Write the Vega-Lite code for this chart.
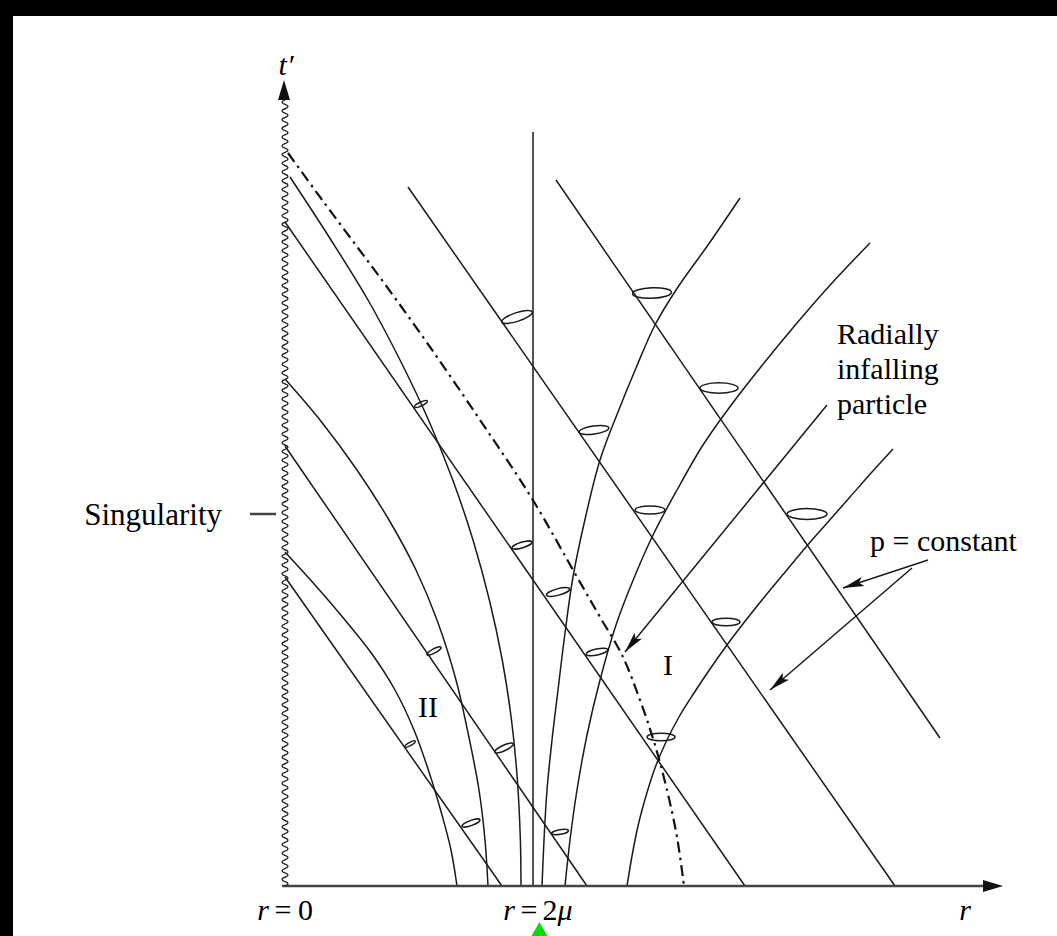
{
  "$schema": "https://vega.github.io/schema/vega-lite/v6.json",
  "width": 1057,
  "height": 936,
  "padding": 0,
  "autosize": {"type": "none"},
  "background": "white",
  "config": {"view": {"stroke": null}},
  "datasets": {
    "frame": [
      {"r": -3, "r2": 7, "t": 6.96, "t2": 8},
      {"r": -3, "r2": -2.16, "t": -1, "t2": 8}
    ],
    "lines": [
      {"id": "A", "r": 0.016, "t": 5.312}, {"id": "A", "r": 3.696, "t": 0},
      {"id": "B", "r": 1.0, "t": 5.592}, {"id": "B", "r": 4.896, "t": 0},
      {"id": "C", "r": 2.184, "t": 5.648}, {"id": "C", "r": 5.256, "t": 1.184},
      {"id": "D", "r": 0.016, "t": 3.52}, {"id": "D", "r": 2.432, "t": 0},
      {"id": "E", "r": 0.016, "t": 2.472}, {"id": "E", "r": 1.752, "t": 0},
      {"id": "H", "r": 2, "t": 6.032}, {"id": "H", "r": 2.0001, "t": 0},
      {"id": "P1", "r": 4.352, "t": 3.848}, {"id": "P1", "r": 2.736, "t": 1.872},
      {"id": "P2", "r": 5.16, "t": 2.608}, {"id": "P2", "r": 4.48, "t": 2.384},
      {"id": "P3", "r": 5.032, "t": 2.544}, {"id": "P3", "r": 3.896, "t": 1.568}
    ],
    "axis": [
      {"id": "x", "r": -0.008, "t": 0}, {"id": "x", "r": 5.656, "t": 0},
      {"id": "tick", "r": -0.264, "t": 2.976}, {"id": "tick", "r": -0.056, "t": 2.976}
    ],
    "curves": [
      {"id": "R2a", "r": 0.056, "t": 5.672}, {"id": "R2a", "r": 0.384, "t": 5.168}, {"id": "R2a", "r": 0.68, "t": 4.688}, {"id": "R2a", "r": 0.936, "t": 4.208}, {"id": "R2a", "r": 1.164, "t": 3.728}, {"id": "R2a", "r": 1.358, "t": 3.248}, {"id": "R2a", "r": 1.52, "t": 2.768}, {"id": "R2a", "r": 1.651, "t": 2.288}, {"id": "R2a", "r": 1.754, "t": 1.808}, {"id": "R2a", "r": 1.828, "t": 1.328}, {"id": "R2a", "r": 1.875, "t": 0.848}, {"id": "R2a", "r": 1.899, "t": 0.368}, {"id": "R2a", "r": 1.904, "t": 0},
      {"id": "R2b", "r": 0.016, "t": 4.056}, {"id": "R2b", "r": 0.296, "t": 3.728}, {"id": "R2b", "r": 0.592, "t": 3.328}, {"id": "R2b", "r": 0.848, "t": 2.928}, {"id": "R2b", "r": 1.064, "t": 2.528}, {"id": "R2b", "r": 1.232, "t": 2.128}, {"id": "R2b", "r": 1.384, "t": 1.648}, {"id": "R2b", "r": 1.492, "t": 1.168}, {"id": "R2b", "r": 1.568, "t": 0.768}, {"id": "R2b", "r": 1.616, "t": 0.368}, {"id": "R2b", "r": 1.64, "t": 0},
      {"id": "R2c", "r": 0.016, "t": 2.672}, {"id": "R2c", "r": 0.256, "t": 2.408}, {"id": "R2c", "r": 0.496, "t": 2.128}, {"id": "R2c", "r": 0.712, "t": 1.856}, {"id": "R2c", "r": 0.896, "t": 1.568}, {"id": "R2c", "r": 1.048, "t": 1.248}, {"id": "R2c", "r": 1.176, "t": 0.888}, {"id": "R2c", "r": 1.272, "t": 0.568}, {"id": "R2c", "r": 1.344, "t": 0.288}, {"id": "R2c", "r": 1.392, "t": 0},
      {"id": "O1", "r": 2.072, "t": 0}, {"id": "O1", "r": 2.088, "t": 0.368}, {"id": "O1", "r": 2.112, "t": 0.768}, {"id": "O1", "r": 2.152, "t": 1.168}, {"id": "O1", "r": 2.2, "t": 1.568}, {"id": "O1", "r": 2.256, "t": 2.024}, {"id": "O1", "r": 2.32, "t": 2.472}, {"id": "O1", "r": 2.424, "t": 2.968}, {"id": "O1", "r": 2.536, "t": 3.408}, {"id": "O1", "r": 2.68, "t": 3.792}, {"id": "O1", "r": 2.824, "t": 4.144}, {"id": "O1", "r": 2.976, "t": 4.488}, {"id": "O1", "r": 3.16, "t": 4.792}, {"id": "O1", "r": 3.4, "t": 5.128}, {"id": "O1", "r": 3.656, "t": 5.504},
      {"id": "O2", "r": 2.256, "t": 0}, {"id": "O2", "r": 2.296, "t": 0.368}, {"id": "O2", "r": 2.352, "t": 0.768}, {"id": "O2", "r": 2.432, "t": 1.208}, {"id": "O2", "r": 2.536, "t": 1.648}, {"id": "O2", "r": 2.664, "t": 2.088}, {"id": "O2", "r": 2.808, "t": 2.464}, {"id": "O2", "r": 2.968, "t": 2.824}, {"id": "O2", "r": 3.152, "t": 3.168}, {"id": "O2", "r": 3.36, "t": 3.528}, {"id": "O2", "r": 3.592, "t": 3.856}, {"id": "O2", "r": 3.848, "t": 4.184}, {"id": "O2", "r": 4.112, "t": 4.504}, {"id": "O2", "r": 4.392, "t": 4.824}, {"id": "O2", "r": 4.696, "t": 5.144},
      {"id": "O3", "r": 2.752, "t": 0}, {"id": "O3", "r": 2.792, "t": 0.24}, {"id": "O3", "r": 2.84, "t": 0.48}, {"id": "O3", "r": 2.904, "t": 0.72}, {"id": "O3", "r": 2.976, "t": 0.944}, {"id": "O3", "r": 3.064, "t": 1.152}, {"id": "O3", "r": 3.168, "t": 1.352}, {"id": "O3", "r": 3.288, "t": 1.544}, {"id": "O3", "r": 3.416, "t": 1.736}, {"id": "O3", "r": 3.552, "t": 1.928}, {"id": "O3", "r": 3.704, "t": 2.128}, {"id": "O3", "r": 3.864, "t": 2.328}, {"id": "O3", "r": 4.024, "t": 2.52}, {"id": "O3", "r": 4.184, "t": 2.712}, {"id": "O3", "r": 4.36, "t": 2.912}, {"id": "O3", "r": 4.536, "t": 3.112}, {"id": "O3", "r": 4.712, "t": 3.312}, {"id": "O3", "r": 4.88, "t": 3.496}
    ],
    "infall": [
      {"r": 0.04, "t": 5.864}, {"r": 0.296, "t": 5.512}, {"r": 0.6, "t": 5.104}, {"r": 0.832, "t": 4.792}, {"r": 1.176, "t": 4.312}, {"r": 1.576, "t": 3.728}, {"r": 1.984, "t": 3.112}, {"r": 2.352, "t": 2.472}, {"r": 2.536, "t": 2.152}, {"r": 2.712, "t": 1.848}, {"r": 2.856, "t": 1.488}, {"r": 2.976, "t": 1.128}, {"r": 3.072, "t": 0.768}, {"r": 3.152, "t": 0.392}, {"r": 3.208, "t": 0}
    ],
    "cones": [
      {"r": 1.872, "t": 4.552, "span": 0.256, "tilt": -18},
      {"r": 2.952, "t": 4.744, "span": 0.312, "tilt": -2},
      {"r": 2.488, "t": 3.648, "span": 0.24, "tilt": -8},
      {"r": 2.936, "t": 3.008, "span": 0.24, "tilt": 0},
      {"r": 1.104, "t": 3.856, "span": 0.112, "tilt": -25},
      {"r": 3.488, "t": 3.984, "span": 0.304, "tilt": 0},
      {"r": 4.192, "t": 2.976, "span": 0.32, "tilt": 0},
      {"r": 3.544, "t": 2.112, "span": 0.224, "tilt": 0},
      {"r": 1.912, "t": 2.728, "span": 0.168, "tilt": -17},
      {"r": 2.2, "t": 2.352, "span": 0.192, "tilt": -15},
      {"r": 2.512, "t": 1.872, "span": 0.176, "tilt": -12},
      {"r": 3.024, "t": 1.192, "span": 0.224, "tilt": 0},
      {"r": 1.208, "t": 1.88, "span": 0.128, "tilt": -28},
      {"r": 1.016, "t": 1.136, "span": 0.096, "tilt": -30},
      {"r": 1.768, "t": 1.104, "span": 0.16, "tilt": -25},
      {"r": 1.504, "t": 0.504, "span": 0.152, "tilt": -20},
      {"r": 2.216, "t": 0.432, "span": 0.136, "tilt": -10}
    ],
    "heads": [
      {"r": 2.736, "t": 1.872, "dir": 219},
      {"r": 4.48, "t": 2.384, "dir": 252},
      {"r": 3.896, "t": 1.568, "dir": 229}
    ],
    "axisheads": [
      {"r": 0.008, "t": 6.448, "dir": 0},
      {"r": 5.76, "t": 0, "dir": 90}
    ],
    "sing": [
      {"r": 0.016, "t": 0.3493}, {"r": 0.016, "t": 1.048}, {"r": 0.016, "t": 1.7464},
      {"r": 0.016, "t": 2.4456}, {"r": 0.016, "t": 3.144}, {"r": 0.016, "t": 3.8424},
      {"r": 0.016, "t": 4.5416}, {"r": 0.016, "t": 5.24}, {"r": 0.016, "t": 5.9384}
    ],
    "txtReg": [
      {"label": "=", "r": 0.0, "t": -0.272},
      {"label": "0", "r": 0.18, "t": -0.272},
      {"label": "=", "r": 1.968, "t": -0.272},
      {"label": "2", "r": 2.136, "t": -0.272},
      {"label": "I", "r": 3.08, "t": 1.688},
      {"label": "II", "r": 1.16, "t": 1.352}
    ],
    "txtIt": [
      {"label": "r", "r": -0.16, "t": -0.272},
      {"label": "r", "r": 1.808, "t": -0.272},
      {"label": "μ", "r": 2.256, "t": -0.272},
      {"label": "r", "r": 5.456, "t": -0.272},
      {"label": "t′", "r": 0.024, "t": 6.488}
    ],
    "txtLeft": [
      {"label": "Radially", "r": 4.432, "t": 4.336},
      {"label": "infalling", "r": 4.432, "t": 4.056},
      {"label": "particle", "r": 4.432, "t": 3.776},
      {"label": "p = constant", "r": 4.696, "t": 2.68}
    ],
    "txtRight": [
      {"label": "Singularity", "r": -0.488, "t": 2.888}
    ],
    "marker": [{"r": 2.052, "t": -0.344}]
  },
  "encoding": {
    "x": {"field": "r", "type": "quantitative", "scale": {"domain": [-2.264, 6.192], "nice": false, "zero": false}, "axis": null},
    "y": {"field": "t", "type": "quantitative", "scale": {"domain": [-0.4, 7.088], "nice": false, "zero": false}, "axis": null}
  },
  "layer": [
    {
      "data": {"name": "frame"},
      "mark": {"type": "rect", "fill": "#000", "strokeWidth": 0},
      "encoding": {"x2": {"field": "r2"}, "y2": {"field": "t2"}}
    },
    {
      "data": {"name": "lines"},
      "mark": {"type": "line", "stroke": "#1a1a1a", "strokeWidth": 1.5, "interpolate": "linear"},
      "encoding": {"detail": {"field": "id", "type": "nominal"}}
    },
    {
      "data": {"name": "curves"},
      "mark": {"type": "line", "stroke": "#1a1a1a", "strokeWidth": 1.5, "interpolate": "catmull-rom"},
      "encoding": {"detail": {"field": "id", "type": "nominal"}}
    },
    {
      "data": {"name": "infall"},
      "mark": {"type": "line", "stroke": "#111", "strokeWidth": 2.2, "interpolate": "catmull-rom", "strokeDash": [11, 5, 2.5, 5]},
      "encoding": {}
    },
    {
      "data": {"name": "axis"},
      "mark": {"type": "line", "stroke": "#444", "strokeWidth": 2.5},
      "encoding": {"detail": {"field": "id", "type": "nominal"}}
    },
    {
      "data": {"name": "sing"},
      "mark": {"type": "point", "filled": false, "opacity": 1, "stroke": "#222", "strokeWidth": 1.4, "size": 7626,
        "shape": "M0,1q0.137,-0.05,0,-0.1q-0.137,-0.05,0,-0.1q0.137,-0.05,0,-0.1q-0.137,-0.05,0,-0.1q0.137,-0.05,0,-0.1q-0.137,-0.05,0,-0.1q0.137,-0.05,0,-0.1q-0.137,-0.05,0,-0.1q0.137,-0.05,0,-0.1q-0.137,-0.05,0,-0.1q0.137,-0.05,0,-0.1q-0.137,-0.05,0,-0.1q0.137,-0.05,0,-0.1q-0.137,-0.05,0,-0.1q0.137,-0.05,0,-0.1q-0.137,-0.05,0,-0.1q0.137,-0.05,0,-0.1q-0.137,-0.05,0,-0.1q0.137,-0.05,0,-0.1q-0.137,-0.05,0,-0.1"}
    },
    {
      "data": {"name": "cones"},
      "mark": {"type": "point", "filled": false, "opacity": 1, "stroke": "#1a1a1a", "strokeWidth": 1.5,
        "shape": "M-1,0C-1,-0.149,-0.552,-0.27,0,-0.27C0.552,-0.27,1,-0.149,1,0C1,0.149,0.552,0.27,0,0.27C-0.552,0.27,-1,0.149,-1,0Z"},
      "encoding": {
        "size": {"field": "span", "type": "quantitative", "scale": {"type": "pow", "exponent": 2, "domain": [0, 1], "range": [0, 15625]}, "legend": null},
        "angle": {"field": "tilt", "type": "quantitative", "scale": null}
      }
    },
    {
      "data": {"name": "heads"},
      "mark": {"type": "point", "filled": true, "opacity": 1, "fill": "#111", "strokeWidth": 0, "size": 441,
        "shape": "M0,0L0.45,2L0,1.6L-0.45,2Z"},
      "encoding": {"angle": {"field": "dir", "type": "quantitative", "scale": null}}
    },
    {
      "data": {"name": "axisheads"},
      "mark": {"type": "point", "filled": true, "opacity": 1, "fill": "#111", "strokeWidth": 0, "size": 400,
        "shape": "M0,0L0.6,2L-0.6,2Z"},
      "encoding": {"angle": {"field": "dir", "type": "quantitative", "scale": null}}
    },
    {
      "data": {"name": "txtReg"},
      "mark": {"type": "text", "font": "Liberation Serif", "fontSize": 30, "align": "center", "baseline": "alphabetic", "fill": "#000"},
      "encoding": {"text": {"field": "label", "type": "nominal"}}
    },
    {
      "data": {"name": "txtIt"},
      "mark": {"type": "text", "font": "Liberation Serif", "fontStyle": "italic", "fontSize": 30, "align": "center", "baseline": "alphabetic", "fill": "#000"},
      "encoding": {"text": {"field": "label", "type": "nominal"}}
    },
    {
      "data": {"name": "txtLeft"},
      "mark": {"type": "text", "font": "Liberation Serif", "fontSize": 30, "align": "left", "baseline": "alphabetic", "fill": "#000"},
      "encoding": {"text": {"field": "label", "type": "nominal"}}
    },
    {
      "data": {"name": "txtRight"},
      "mark": {"type": "text", "font": "Liberation Serif", "fontSize": 31, "align": "right", "baseline": "alphabetic", "fill": "#000"},
      "encoding": {"text": {"field": "label", "type": "nominal"}}
    },
    {
      "data": {"name": "marker"},
      "mark": {"type": "point", "shape": "triangle-up", "filled": true, "opacity": 1, "fill": "#00e000", "strokeWidth": 0, "size": 256},
      "encoding": {}
    }
  ]
}
